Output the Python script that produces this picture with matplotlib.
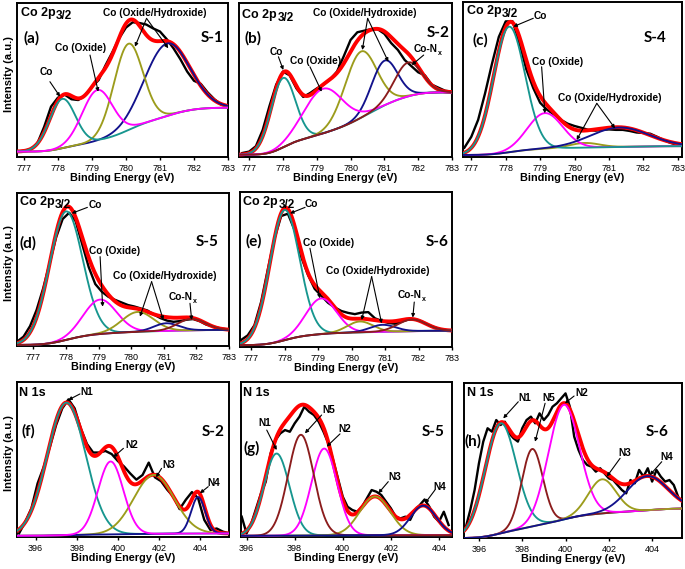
import numpy as np
import matplotlib
matplotlib.use('Agg')
import matplotlib.pyplot as plt

plt.rcParams['font.family'] = ['Liberation Sans', 'DejaVu Sans']

TEAL = '#17968f'
MAGENTA = '#ff00ff'
OLIVE = '#9c9c1c'
NAVY = '#12128c'
BROWN = '#8b1c1c'

# ---------------- data (intensity as fraction of panel height) ----------------
# (a) S-1, Co 2p3/2
a_raw_range = (776.8, 783.0)
a_raw = [0.035, 0.041, 0.05, 0.089, 0.197, 0.327, 0.385, 0.405, 0.375, 0.37, 0.40,
         0.455, 0.50, 0.595, 0.68, 0.77, 0.84, 0.875, 0.87, 0.86, 0.835, 0.815,
         0.765, 0.705, 0.635, 0.555, 0.495, 0.475, 0.42, 0.375, 0.34, 0.33]
a_centers = [778.13, 779.16, 780.07, 781.2]
a_heights = [0.32, 0.33, 0.56, 0.47]
a_fwhm = [0.9, 1.05, 1.0, 1.55]
a_bg = (0.035, 0.32)

# (b) S-2, Co 2p3/2
b_raw_range = (776.8, 783.0)
b_raw = [0.026, 0.035, 0.07, 0.175, 0.33, 0.47, 0.555, 0.53, 0.445, 0.39, 0.415,
         0.445, 0.47, 0.505, 0.555, 0.655, 0.76, 0.81, 0.82, 0.83, 0.83, 0.80,
         0.74, 0.695, 0.63, 0.59, 0.55, 0.53, 0.47, 0.45, 0.43, 0.425]
b_centers = [778.0, 779.18, 780.3, 781.0, 781.7]
b_heights = [0.45, 0.29, 0.43, 0.29, 0.22]
b_fwhm = [0.85, 1.35, 1.1, 0.9, 0.95]
b_bg = (0.015, 0.42)

# (c) S-4, Co 2p3/2
c_raw_range = (776.8, 783.0)
c_raw = [0.06, 0.13, 0.24, 0.41, 0.60, 0.775, 0.875, 0.875, 0.735, 0.565, 0.445,
         0.35, 0.305, 0.275, 0.24, 0.215, 0.2, 0.188, 0.175, 0.17, 0.175, 0.178,
         0.175, 0.175, 0.168, 0.158, 0.155, 0.15, 0.13, 0.108, 0.09, 0.078]
c_centers = [778.1, 779.14, 780.3, 781.3]
c_heights = [0.81, 0.23, 0.03, 0.125]
c_fwhm = [1.08, 1.2, 1.0, 2.0]
c_bg = (0.013, 0.07)

# (d) S-5, Co 2p3/2
d_raw_range = (776.5, 782.9)
d_raw = [0.028, 0.061, 0.13, 0.235, 0.375, 0.54, 0.71, 0.83, 0.871, 0.815, 0.665,
         0.515, 0.405, 0.355, 0.322, 0.302, 0.285, 0.268, 0.258, 0.245, 0.232,
         0.205, 0.182, 0.166, 0.158, 0.163, 0.172, 0.176, 0.162, 0.14, 0.128,
         0.117, 0.11]
d_centers = [778.0, 779.04, 780.2, 781.08, 781.85]
d_heights = [0.84, 0.225, 0.13, 0.05, 0.075]
d_fwhm = [1.2, 1.2, 1.15, 0.9, 1.0]
d_bg = (0.007, 0.105)

# (e) S-6, Co 2p3/2
e_raw_range = (776.7, 782.9)
e_raw = [0.045, 0.075, 0.14, 0.29, 0.50, 0.70, 0.845, 0.86, 0.754, 0.58, 0.465,
         0.375, 0.33, 0.285, 0.255, 0.232, 0.22, 0.212, 0.222, 0.225, 0.185,
         0.168, 0.155, 0.15, 0.163, 0.178, 0.18, 0.165, 0.143, 0.125, 0.112, 0.106]
e_centers = [778.0, 779.09, 780.25, 780.93, 781.8]
e_heights = [0.84, 0.23, 0.07, 0.045, 0.075]
e_fwhm = [1.05, 1.07, 0.9, 0.9, 1.0]
e_bg = (0.012, 0.105)

# (f) S-2, N 1s
f_raw_range = (395.2, 405.4)
f_raw = [0.023, 0.098, 0.185, 0.346, 0.453, 0.582, 0.722, 0.83, 0.888, 0.83, 0.70,
         0.60, 0.545, 0.545, 0.555, 0.535, 0.49, 0.455, 0.41, 0.37, 0.40, 0.48,
         0.385, 0.36, 0.305, 0.26, 0.18, 0.24, 0.29, 0.25, 0.11, 0.045, 0.055,
         0.035, 0.023]
f_centers = [397.5, 399.65, 401.75, 403.9]
f_heights = [0.855, 0.47, 0.38, 0.235]
f_fwhm = [2.2, 1.45, 2.3, 0.8]
f_bg = (0.008, 0.023)

# (g) S-5, N 1s
g_raw_range = (395.8, 404.4)
g_raw = [0.131, 0.023, 0.088, 0.185, 0.281, 0.357, 0.539, 0.625, 0.668, 0.69,
         0.679, 0.733, 0.776, 0.84, 0.808, 0.787, 0.744, 0.679, 0.604, 0.496,
         0.378, 0.26, 0.195, 0.174, 0.163, 0.195, 0.249, 0.303, 0.292, 0.271,
         0.228, 0.185, 0.131, 0.12, 0.131, 0.11, 0.174, 0.206, 0.242, 0.195,
         0.131, 0.099, 0.163, 0.077]
g_centers = [397.25, 398.26, 399.23, 401.34, 403.35]
g_heights = [0.53, 0.65, 0.56, 0.25, 0.19]
g_fwhm = [1.25, 1.25, 1.25, 1.5, 1.27]
g_bg = (0.008, 0.012)

# (h) S-6, N 1s
h_raw_range = (395.4, 405.2)
h_raw = [0.073, 0.181, 0.31, 0.482, 0.622, 0.708, 0.686, 0.761, 0.729, 0.75,
         0.675, 0.643, 0.622, 0.708, 0.761, 0.783, 0.74, 0.804, 0.761, 0.794,
         0.847, 0.869, 0.901, 0.933, 0.847, 0.654, 0.568, 0.503, 0.471, 0.46,
         0.428, 0.45, 0.417, 0.385, 0.374, 0.342, 0.31, 0.288, 0.374, 0.353,
         0.439, 0.396, 0.45, 0.364, 0.439, 0.396, 0.364, 0.374, 0.342, 0.267]
h_centers = [397.0, 398.46, 399.92, 401.69, 403.77]
h_heights = [0.71, 0.50, 0.74, 0.22, 0.22]
h_fwhm = [1.7, 1.15, 1.69, 1.5, 2.2]
h_bg = (0.0, 0.19)

co_ticks = [777, 778, 779, 780, 781, 782, 783]
n_ticks = [396, 398, 400, 402, 404]

FW, FH = 685, 569


def gauss(x, c, h, w):
    s = w / 2.3548
    return h * np.exp(-(x - c) ** 2 / (2 * s * s))


def px_axes(fig, x0, y0, x1, y1):
    return fig.add_axes([x0 / FW, 1 - y1 / FH, (x1 - x0) / FW, (y1 - y0) / FH])


def draw_spectrum(ax, xlim, raw_range, raw, centers, heights, fwhm, colors, order, bg):
    x = np.linspace(xlim[0], xlim[1], 500)
    peaks = [gauss(x, c, h, w) for c, h, w in zip(centers, heights, fwhm)]
    total = np.sum(peaks, axis=0)
    cum = np.cumsum(total)
    back = bg[0] + (bg[1] - bg[0]) * cum / cum[-1]   # Shirley-type background
    ex = np.linspace(raw_range[0], raw_range[1], len(raw))
    ax.plot(ex, raw, color='black', lw=1.7, zorder=2)
    ax.plot(x, back + total, color='red', lw=2.8, zorder=3, solid_capstyle='round')
    for i in order:
        ax.plot(x, back + peaks[i], color=colors[i], lw=1.35, zorder=4)


def style_axes(ax, xlim, ticks, ylabel=False):
    ax.set_xlim(*xlim)
    ax.set_ylim(0, 1)
    ax.set_yticks([])
    ax.set_xticks(ticks)
    ax.tick_params(axis='x', direction='out', length=2.5, width=1.0, pad=2.5,
                   labelsize=6.5)
    for sp in ax.spines.values():
        sp.set_linewidth(1.4)
    ax.set_xlabel('Binding Energy (eV)', fontsize=7.8, fontweight='bold')
    ax.xaxis.set_label_coords(0.5, -0.105)
    if ylabel:
        ax.set_ylabel('Intensity (a.u.)', fontsize=8.0, fontweight='bold')
        ax.yaxis.set_label_coords(-0.012, 0.54)


def header(ax, core, pos, sub=None):
    t = ax.text(pos[0], pos[1], core, transform=ax.transAxes, ha='left',
                va='center', fontsize=9, fontweight='bold')
    if sub:
        ax.annotate(sub, xy=(1, 0.5), xycoords=t, xytext=(0.3, -2.2),
                    textcoords='offset points', ha='left', va='center',
                    fontsize=8.5, fontweight='bold')


def tag(ax, s, pos):
    ax.text(pos[0], pos[1], s, transform=ax.transAxes, ha='center', va='center',
            fontsize=11, fontweight='bold', family=['Lato', 'DejaVu Sans'])


def label(ax, s, tpos, start, ends, sub=None):
    t = ax.text(tpos[0], tpos[1], s, transform=ax.transAxes, ha='center',
                va='center', fontsize=7.3, fontweight='bold', zorder=6)
    if sub:
        ax.annotate(sub, xy=(1, 0.3), xycoords=t, xytext=(0.5, -1.5),
                    textcoords='offset points', ha='left', va='center',
                    fontsize=5, fontweight='bold')
    for e in ends:
        ax.annotate('', xy=e, xytext=start, xycoords='axes fraction',
                    arrowprops=dict(arrowstyle='-|>', lw=0.8, color='black',
                                    mutation_scale=5, shrinkA=0, shrinkB=0),
                    zorder=6)


fig = plt.figure(figsize=(FW / 100, FH / 100), dpi=100)

# (a)
ax = px_axes(fig, 17, 3, 228, 157)
xl = (776.8, 783.0)
draw_spectrum(ax, xl, a_raw_range, a_raw, a_centers, a_heights, a_fwhm,
              [TEAL, MAGENTA, OLIVE, NAVY], [3, 2, 0, 1], a_bg)
style_axes(ax, xl, co_ticks, ylabel=True)
header(ax, 'Co 2p', (0.018, 0.933), '3/2')
tag(ax, '(a)', (0.07, 0.77))
tag(ax, 'S-1', (0.923, 0.77))
label(ax, 'Co', (0.141, 0.554), (0.156, 0.489), [(0.204, 0.392)])
label(ax, 'Co (Oxide)', (0.299, 0.706), (0.346, 0.662), [(0.385, 0.424)])
label(ax, 'Co (Oxide/Hydroxide)', (0.654, 0.933), (0.614, 0.9),
      [(0.559, 0.716), (0.717, 0.706)])

# (b)
ax = px_axes(fig, 239, 3, 452, 157)
xl = (776.7, 783.0)
draw_spectrum(ax, xl, b_raw_range, b_raw, b_centers, b_heights, b_fwhm,
              [TEAL, MAGENTA, OLIVE, NAVY, BROWN], [0, 2, 3, 1, 4], b_bg)
style_axes(ax, xl, co_ticks)
header(ax, 'Co 2p', (0.016, 0.922), '3/2')
tag(ax, '(b)', (0.067, 0.77))
tag(ax, 'S-2', (0.936, 0.803))
label(ax, 'Co', (0.177, 0.684), (0.185, 0.651), [(0.208, 0.565)])
label(ax, 'Co (Oxide)', (0.36, 0.623), (0.333, 0.586), [(0.388, 0.424)])
label(ax, 'Co (Oxide/Hydroxide)', (0.592, 0.933), (0.604, 0.9),
      [(0.579, 0.695), (0.701, 0.619)])
label(ax, 'Co-N', (0.875, 0.699), (0.867, 0.662), [(0.811, 0.597)], sub='x')

# (c)
ax = px_axes(fig, 463, 2, 682, 157)
xl = (776.76, 783.12)
draw_spectrum(ax, xl, c_raw_range, c_raw, c_centers, c_heights, c_fwhm,
              [TEAL, MAGENTA, OLIVE, NAVY], [2, 1, 0, 3], c_bg)
style_axes(ax, xl, co_ticks)
header(ax, 'Co 2p', (0.017, 0.944), '3/2')
tag(ax, '(c)', (0.078, 0.755))
tag(ax, 'S-4', (0.877, 0.766))
label(ax, 'Co', (0.352, 0.91), (0.321, 0.895), [(0.23, 0.841)])
label(ax, 'Co (Oxide)', (0.431, 0.611), (0.359, 0.582), [(0.374, 0.282)])
label(ax, 'Co (Oxide/Hydroxide)', (0.671, 0.383), (0.611, 0.346),
      [(0.519, 0.11), (0.694, 0.185)])

# (d)
ax = px_axes(fig, 17, 193, 229, 346)
xl = (776.5, 783.0)
draw_spectrum(ax, xl, d_raw_range, d_raw, d_centers, d_heights, d_fwhm,
              [TEAL, MAGENTA, OLIVE, NAVY, BROWN], [0, 1, 2, 3, 4], d_bg)
style_axes(ax, xl, co_ticks, ylabel=True)
header(ax, 'Co 2p', (0.014, 0.943), '3/2')
tag(ax, '(d)', (0.053, 0.671))
tag(ax, 'S-5', (0.895, 0.682))
label(ax, 'Co', (0.368, 0.922), (0.332, 0.906), [(0.258, 0.867)])
label(ax, 'Co (Oxide)', (0.462, 0.623), (0.392, 0.584), [(0.404, 0.257)])
label(ax, 'Co (Oxide/Hydroxide)', (0.698, 0.458), (0.635, 0.42),
      [(0.58, 0.192), (0.69, 0.17)])
label(ax, 'Co-N', (0.772, 0.318), (0.816, 0.279), [(0.824, 0.17)], sub='x')

# (e)
ax = px_axes(fig, 240, 192, 452, 347)
xl = (776.67, 783.0)
draw_spectrum(ax, xl, e_raw_range, e_raw, e_centers, e_heights, e_fwhm,
              [TEAL, MAGENTA, OLIVE, NAVY, BROWN], [0, 1, 2, 3, 4], e_bg)
style_axes(ax, xl, co_ticks)
header(ax, 'Co 2p', (0.016, 0.937), '3/2')
tag(ax, '(e)', (0.063, 0.679))
tag(ax, 'S-6', (0.928, 0.679))
label(ax, 'Co', (0.338, 0.923), (0.307, 0.901), [(0.236, 0.862)])
label(ax, 'Co (Oxide)', (0.42, 0.669), (0.33, 0.637), [(0.377, 0.314)])
label(ax, 'Co (Oxide/Hydroxide)', (0.652, 0.492), (0.621, 0.454),
      [(0.574, 0.174), (0.668, 0.153)])
label(ax, 'Co-N', (0.80, 0.335), (0.822, 0.29), [(0.815, 0.19)], sub='x')

# (f)
ax = px_axes(fig, 17, 382, 229, 537)
xl = (395.1, 405.4)
draw_spectrum(ax, xl, f_raw_range, f_raw, f_centers, f_heights, f_fwhm,
              [TEAL, MAGENTA, OLIVE, NAVY], [0, 2, 3, 1], f_bg)
style_axes(ax, xl, n_ticks, ylabel=True)
header(ax, 'N 1s', (0.011, 0.927))
tag(ax, '(f)', (0.053, 0.679))
tag(ax, 'S-2', (0.926, 0.679))
label(ax, 'N1', (0.329, 0.937), (0.297, 0.923), [(0.242, 0.884)])
label(ax, 'N2', (0.541, 0.594), (0.502, 0.572), [(0.454, 0.514)])
label(ax, 'N3', (0.714, 0.465), (0.682, 0.443), [(0.656, 0.385)])
label(ax, 'N4', (0.926, 0.346), (0.902, 0.325), [(0.863, 0.282)])

# (g)
ax = px_axes(fig, 241, 382, 452, 537)
xl = (395.77, 404.54)
draw_spectrum(ax, xl, g_raw_range, g_raw, g_centers, g_heights, g_fwhm,
              [TEAL, BROWN, MAGENTA, OLIVE, NAVY], [0, 3, 2, 1, 4], g_bg)
style_axes(ax, xl, n_ticks)
header(ax, 'N 1s', (0.011, 0.927))
tag(ax, '(g)', (0.051, 0.572))
tag(ax, 'S-5', (0.911, 0.679))
label(ax, 'N1', (0.114, 0.734), (0.122, 0.69), [(0.169, 0.561)])
label(ax, 'N5', (0.414, 0.819), (0.382, 0.787), [(0.303, 0.669)])
label(ax, 'N2', (0.493, 0.695), (0.469, 0.665), [(0.406, 0.583)])
label(ax, 'N3', (0.73, 0.385), (0.698, 0.357), [(0.651, 0.282)])
label(ax, 'N4', (0.943, 0.325), (0.919, 0.303), [(0.872, 0.217)])

# (h)
ax = px_axes(fig, 464, 383, 682, 538)
xl = (395.31, 405.38)
draw_spectrum(ax, xl, h_raw_range, h_raw, h_centers, h_heights, h_fwhm,
              [TEAL, BROWN, MAGENTA, OLIVE, NAVY], [0, 1, 2, 3, 4], h_bg)
style_axes(ax, xl, n_ticks)
header(ax, 'N 1s', (0.012, 0.937))
tag(ax, '(h)', (0.043, 0.621))
tag(ax, 'S-6', (0.884, 0.686))
label(ax, 'N1', (0.28, 0.901), (0.249, 0.879), [(0.18, 0.772)])
label(ax, 'N5', (0.387, 0.901), (0.372, 0.869), [(0.326, 0.621)])
label(ax, 'N2', (0.54, 0.937), (0.505, 0.916), [(0.463, 0.869)])
label(ax, 'N3', (0.739, 0.546), (0.716, 0.514), [(0.655, 0.396)])
label(ax, 'N4', (0.93, 0.521), (0.907, 0.492), [(0.853, 0.406)])

fig.savefig('out.png', dpi=100, facecolor='white')
